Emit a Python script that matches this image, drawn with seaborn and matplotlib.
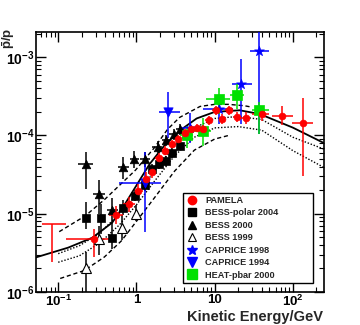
import matplotlib
matplotlib.use("Agg")
import matplotlib.pyplot as plt
import seaborn as sns
import numpy as np
import pandas as pd
from matplotlib.lines import Line2D
from matplotlib.ticker import LogLocator, NullFormatter

sns.set_theme(style="ticks")
plt.rcParams["font.family"] = ["Liberation Sans", "DejaVu Sans"]
plt.rcParams["font.weight"] = "bold"
plt.rcParams["mathtext.default"] = "regular"

# ---------------- data (kinetic energy GeV, pbar/p) ----------------
pam_E = [0.29, 0.55, 0.81, 1.06, 1.34, 1.60, 1.97, 2.35, 2.81, 3.35, 4.12, 4.93, 5.88, 7.0, 8.4, 10.3, 12.3, 15.1, 19.1, 24.9, 40, 72, 134]
pam_r = [4.7e-6, 9.7e-6, 1.32e-5, 1.96e-5, 2.8e-5, 3.4e-5, 5.2e-5, 6.4e-5, 7.8e-5, 9.0e-5, 1.08e-4, 1.21e-4, 1.25e-4, 1.21e-4, 1.57e-4, 2.1e-4, 1.62e-4, 2.1e-4, 1.72e-4, 1.67e-4, 1.88e-4, 1.77e-4, 1.44e-4]
pam_xlo = [0.127, 0.45, 0.68, 0.95, 1.2, 1.47, 1.75, 2.15, 2.6, 3.1, 3.7, 4.5, 5.4, 6.4, 7.6, 9.2, 11.2, 13.6, 17, 22, 30, 54, 97]
pam_xhi = [0.45, 0.68, 0.95, 1.2, 1.47, 1.75, 2.15, 2.6, 3.1, 3.7, 4.5, 5.4, 6.4, 7.6, 9.2, 11.2, 13.6, 17, 22, 28, 49, 100, 180]
pam_ylo = [2.8e-6, 7.5e-6, 1.05e-5, 1.6e-5, 2.3e-5, 2.9e-5, 4.5e-5, 5.6e-5, 6.9e-5, 8.0e-5, 9.6e-5, 1.07e-4, 1.1e-4, 1.05e-4, 1.38e-4, 1.85e-4, 1.4e-4, 1.85e-4, 1.48e-4, 1.42e-4, 1.55e-4, 1.35e-4, 3.05e-5]
pam_yhi = [6.4e-6, 1.25e-5, 1.65e-5, 2.4e-5, 3.4e-5, 4.0e-5, 6.0e-5, 7.3e-5, 8.8e-5, 1.01e-4, 1.21e-4, 1.36e-4, 1.42e-4, 1.38e-4, 1.78e-4, 2.4e-4, 1.88e-4, 2.4e-4, 2.0e-4, 1.97e-4, 2.3e-4, 2.35e-4, 3.0e-4]
# PAMELA lowest-energy bin drawn as an upper limit
pamul_E = [0.084]
pamul_r = [7.5e-6]
pamul_xlo = [0.062]
pamul_xhi = [0.127]
pamul_ylo = [2.4e-6]

bp_E = [0.229, 0.356, 0.49, 0.68, 0.97, 1.27, 1.60, 1.97, 2.42, 2.89, 3.56]
bp_r = [8.9e-6, 8.9e-6, 4.9e-6, 1.19e-5, 1.7e-5, 2.3e-5, 3.7e-5, 4.3e-5, 4.7e-5, 6.0e-5, 7.4e-5]
bp_ylo = [6.4e-6, 5.5e-6, 3.5e-6, 9.5e-6, 1.45e-5, 1.95e-5, 3.2e-5, 3.7e-5, 4.1e-5, 5.2e-5, 6.5e-5]
bp_yhi = [1.4e-5, 1.35e-5, 7.0e-6, 1.5e-5, 2.0e-5, 2.7e-5, 4.3e-5, 5.0e-5, 5.4e-5, 6.9e-5, 8.4e-5]

b00_E = [0.229, 0.335, 0.49, 0.68, 0.94, 1.30, 1.86, 2.42, 2.98, 3.56]
b00_r = [4.3e-5, 1.77e-5, 1.12e-5, 4.0e-5, 5.0e-5, 5.0e-5, 7.1e-5, 8.7e-5, 1.04e-4, 1.2e-4]
b00_xlo = [0.18, 0.28, 0.42, 0.58, 0.82, 1.12, 1.6, 2.1, 2.6, 3.2]
b00_xhi = [0.28, 0.40, 0.58, 0.80, 1.08, 1.5, 2.15, 2.8, 3.4, 4.0]
b00_ylo = [2.1e-5, 1.0e-5, 7.0e-6, 2.8e-5, 3.8e-5, 4.0e-5, 5.9e-5, 7.3e-5, 8.8e-5, 1.02e-4]
b00_yhi = [6.1e-5, 2.7e-5, 1.6e-5, 5.3e-5, 6.3e-5, 6.1e-5, 8.4e-5, 1.02e-4, 1.2e-4, 1.4e-4]

b99_E = [0.229, 0.335, 0.66, 1.0]
b99_r = [2.05e-6, 4.7e-6, 6.6e-6, 1.0e-5]
b99_ylo = [1.0e-6, 3.0e-6, 4.6e-6, 8.0e-6]
b99_yhi = [3.2e-6, 7.0e-6, 9.5e-6, 1.3e-5]

c98_E = [4.8, 11.3, 22, 37]
c98_r = [1.25e-4, 2.2e-4, 4.5e-4, 1.2e-3]
c98_xlo = [3.56, 7.0, 16.5, 28]
c98_xhi = [6.4, 17, 30, 49]
c98_ylo = [8.0e-5, 1.4e-4, 1.4e-4, 1.04e-4]
c98_yhi = [1.94e-4, 2.9e-4, 9.6e-4, 2.5e-3]

c94_E = [1.3, 2.57]
c94_r = [2.5e-5, 2.0e-4]
c94_xlo = [0.6, 1.97]
c94_xhi = [2.09, 3.56]
c94_ylo = [5.9e-6, 9.3e-5]
c94_yhi = [6.1e-5, 3.6e-4]

heat_E = [4.4, 7.0, 11.3, 19.1, 37]
heat_r = [1.0e-4, 1.14e-4, 2.9e-4, 3.3e-4, 2.1e-4]
heat_xlo = [3.6, 5.5, 7.8, 15.5, 30]
heat_xhi = [5.3, 9.0, 15.5, 24, 50]
heat_ylo = [6.9e-5, 7.4e-5, 1.88e-4, 2.2e-4, 1.05e-4]
heat_yhi = [1.32e-4, 1.67e-4, 4.0e-4, 4.6e-4, 2.7e-4]

# model curves
solid_E = [0.0507, 0.134, 0.273, 0.49, 0.72, 1.0, 1.47, 2.29, 3.56, 5.88, 10, 20.9, 37.8, 100, 250]
solid_r = [2.75e-6, 3.69e-6, 4.94e-6, 7.7e-6, 1.35e-5, 2.3e-5, 4.3e-5, 7.5e-5, 1.15e-4, 1.65e-4, 2.0e-4, 2.1e-4, 1.88e-4, 1.26e-4, 8.0e-5]
updash_E = [0.103, 0.222, 0.40, 0.605, 0.97, 1.70, 2.5, 3.56, 6.5, 10, 15, 24, 30]
updash_r = [5.9e-6, 9.4e-6, 1.55e-5, 2.3e-5, 3.6e-5, 7.0e-5, 1.2e-4, 1.7e-4, 2.35e-4, 2.5e-4, 2.5e-4, 2.4e-4, 2.3e-4]
dotA_E = [0.1, 0.186, 0.336, 0.605, 1.0, 1.7, 3.07, 5.5, 10, 20, 40, 100, 250]
dotA_r = [3.09e-6, 3.9e-6, 5.6e-6, 1.0e-5, 1.75e-5, 3.5e-5, 7.5e-5, 1.25e-4, 1.65e-4, 1.75e-4, 1.6e-4, 9.5e-5, 6.7e-5]
dotB_E = [0.1, 0.186, 0.336, 0.605, 1.0, 1.7, 3.07, 5.5, 10, 20, 40, 100, 250]
dotB_r = [2.4e-6, 2.9e-6, 4.2e-6, 7.2e-6, 1.3e-5, 2.6e-5, 5.5e-5, 9.5e-5, 1.25e-4, 1.3e-4, 1.17e-4, 6.4e-5, 3.9e-5]
lodash_E = [0.106, 0.215, 0.389, 0.642, 1.0, 1.7, 3.07, 5.5, 10, 15]
lodash_r = [1.49e-6, 1.88e-6, 2.8e-6, 4.5e-6, 8.0e-6, 1.6e-5, 3.5e-5, 6.5e-5, 9.0e-5, 1.0e-4]

legend_labels = ["PAMELA", "BESS-polar 2004", "BESS 2000", "BESS 1999",
                 "CAPRICE 1998", "CAPRICE 1994", "HEAT-pbar 2000"]
xtick_vals = [0.1, 1, 10, 100]
xtick_labels = ["$10^{-1}$", "1", "10", "$10^{2}$"]
ytick_vals = [1e-6, 1e-5, 1e-4, 1e-3]
ytick_labels = ["$10^{-6}$", "$10^{-5}$", "$10^{-4}$", "$10^{-3}$"]

RED, BLUE, GREEN, BLACK = "#ff0000", "#0000ff", "#00e000", "#000000"

fig = plt.figure(figsize=(3.6, 3.25), dpi=100)
ax = fig.add_axes([0.1, 0.1015, 0.8, 0.80])
ax.set_xscale("log")
ax.set_yscale("log")
ax.set_xlim(0.052, 250)
ax.set_ylim(1e-6, 2.1e-3)

# curves
for E, r, ls, lw in [(solid_E, solid_r, "-", 1.3),
                     (updash_E, updash_r, (0, (3, 2)), 1.0),
                     (dotA_E, dotA_r, (0, (1, 1.3)), 1.0),
                     (dotB_E, dotB_r, (0, (1, 1.3)), 1.0),
                     (lodash_E, lodash_r, (0, (3, 2)), 1.0)]:
    df = pd.DataFrame({"E": E, "r": r})
    sns.lineplot(data=df, x="E", y="r", ax=ax, color=BLACK, lw=lw, linestyle=ls,
                 estimator=None, sort=False, zorder=2)


def errs(E, r, xlo=None, xhi=None, ylo=None, yhi=None, color="k"):
    E = np.array(E); r = np.array(r)
    xerr = None if xlo is None else [E - np.array(xlo), np.array(xhi) - E]
    yerr = None if ylo is None else [r - np.array(ylo), np.array(yhi) - r]
    ax.errorbar(E, r, xerr=xerr, yerr=yerr, fmt="none", ecolor=color,
                elinewidth=1.1, capsize=0, zorder=3)


errs(bp_E, bp_r, ylo=bp_ylo, yhi=bp_yhi, color=BLACK)
errs(b00_E, b00_r, b00_xlo, b00_xhi, b00_ylo, b00_yhi, color=BLACK)
errs(b99_E, b99_r, ylo=b99_ylo, yhi=b99_yhi, color=BLACK)
errs(c94_E, c94_r, c94_xlo, c94_xhi, c94_ylo, c94_yhi, color=BLUE)
errs(c98_E, c98_r, c98_xlo, c98_xhi, c98_ylo, c98_yhi, color=BLUE)
errs(heat_E, heat_r, heat_xlo, heat_xhi, heat_ylo, heat_yhi, color=GREEN)
errs(pam_E, pam_r, pam_xlo, pam_xhi, pam_ylo, pam_yhi, color=RED)
ul_E = np.array(pamul_E); ul_r = np.array(pamul_r)
ax.errorbar(ul_E, ul_r, xerr=[ul_E - np.array(pamul_xlo), np.array(pamul_xhi) - ul_E],
            yerr=[ul_r - np.array(pamul_ylo), np.zeros_like(ul_r)],
            fmt="none", ecolor=RED, elinewidth=1.1, capsize=0, zorder=3)

# markers
def pts(E, r, marker, color, s):
    df = pd.DataFrame({"E": E, "r": r})
    sns.scatterplot(data=df, x="E", y="r", ax=ax, marker=marker, color=color,
                    s=s, edgecolor=color, linewidth=0.5, zorder=4, legend=False)

pts(bp_E, bp_r, "s", BLACK, 32)
pts(b00_E, b00_r, "^", BLACK, 38)
ax.plot(b99_E, b99_r, ls="none", marker="^", ms=6.5, mfc="white", mec=BLACK, mew=0.8, zorder=4)
pts(c94_E, c94_r, "v", BLUE, 45)
pts(c98_E, c98_r, "*", BLUE, 55)
pts(heat_E, heat_r, "s", GREEN, 55)
pts(pam_E, pam_r, "o", RED, 24)

ax.set_xlabel("")
ax.set_ylabel("")

# axes styling (ROOT-like)
for sp in ax.spines.values():
    sp.set_linewidth(1.2)
    sp.set_color("black")
ax.xaxis.set_minor_locator(LogLocator(base=10, subs=np.arange(2, 10), numticks=20))
ax.yaxis.set_minor_locator(LogLocator(base=10, subs=np.arange(2, 10), numticks=20))
ax.set_xticks(xtick_vals)
ax.set_xticklabels(xtick_labels)
ax.set_yticks(ytick_vals)
ax.set_yticklabels(ytick_labels)
ax.xaxis.set_minor_formatter(NullFormatter())
ax.yaxis.set_minor_formatter(NullFormatter())
ax.tick_params(which="both", direction="in", top=True, right=True, colors="black")
ax.tick_params(which="major", length=7, width=1.0)
ax.tick_params(which="minor", length=3.5, width=0.8)
ax.tick_params(axis="x", which="major", labelsize=9.5, pad=1.5)
ax.tick_params(axis="y", which="major", labelsize=10, pad=1)
for lab in ax.get_xticklabels() + ax.get_yticklabels():
    lab.set_fontweight("bold")

fig.text(0.897, 0.004, "Kinetic Energy/GeV", ha="right", va="bottom",
         fontsize=10.5, fontweight="bold")
fig.text(0.024, 0.915, r"$\bar{p}$/p", ha="center", va="top", rotation=90,
         fontsize=9.5, fontweight="bold")

# legend
handles = [
    Line2D([], [], ls="none", marker="o", ms=6, color=RED),
    Line2D([], [], ls="none", marker="s", ms=6, color=BLACK),
    Line2D([], [], ls="none", marker="^", ms=6, color=BLACK),
    Line2D([], [], ls="none", marker="^", ms=6, mfc="white", mec=BLACK, mew=0.8),
    Line2D([], [], ls="none", marker="*", ms=7, color=BLUE),
    Line2D([], [], ls="none", marker="v", ms=6.5, color=BLUE),
    Line2D([], [], ls="none", marker="s", ms=6.5, color=GREEN),
]
leg = ax.legend(handles, legend_labels, loc="lower left",
                bbox_to_anchor=(0.510, 0.035, 0.452, 0.342), mode="expand",
                frameon=True, fancybox=False, framealpha=1, edgecolor="black",
                prop={"size": 6.6, "weight": "bold"}, handlelength=1.2,
                handletextpad=0.9, labelspacing=0.38, borderpad=0.35,
                borderaxespad=0)
leg.get_frame().set_linewidth(1.0)
leg.set_zorder(10)

fig.savefig("out.png", dpi=100)
